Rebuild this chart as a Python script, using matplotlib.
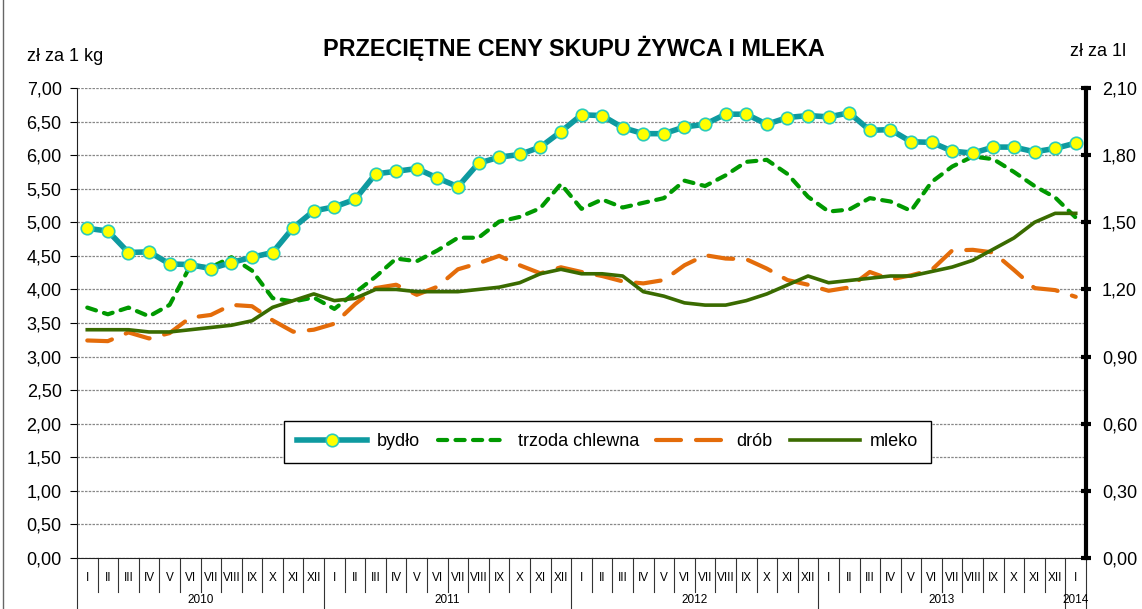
import matplotlib.pyplot as plt
import numpy as np
from matplotlib.ticker import FuncFormatter, MultipleLocator
from matplotlib.lines import Line2D

plt.rcParams['font.family'] = ['Liberation Sans', 'DejaVu Sans']

# dane: I 2010 - I 2014
months = ['I', 'II', 'III', 'IV', 'V', 'VI', 'VII', 'VIII', 'IX', 'X', 'XI', 'XII']
years = ['2010', '2011', '2012', '2013', '2014']
month_labels = months * 4 + ['I']

bydlo = [4.91, 4.87, 4.55, 4.56, 4.38, 4.37, 4.31, 4.40, 4.48, 4.55, 4.92, 5.17,
         5.23, 5.34, 5.72, 5.76, 5.80, 5.66, 5.53, 5.88, 5.97, 6.01, 6.12, 6.35,
         6.60, 6.59, 6.41, 6.32, 6.32, 6.42, 6.46, 6.61, 6.61, 6.46, 6.56, 6.59,
         6.57, 6.63, 6.37, 6.38, 6.20, 6.19, 6.06, 6.03, 6.12, 6.12, 6.05, 6.10,
         6.18]
trzoda = [3.73, 3.63, 3.73, 3.60, 3.77, 4.35, 4.33, 4.48, 4.28, 3.87, 3.82, 3.88,
          3.71, 3.95, 4.19, 4.46, 4.42, 4.58, 4.77, 4.77, 5.01, 5.08, 5.21, 5.57,
          5.20, 5.34, 5.22, 5.29, 5.36, 5.62, 5.54, 5.70, 5.90, 5.93, 5.72, 5.38,
          5.16, 5.19, 5.36, 5.31, 5.17, 5.60, 5.83, 5.98, 5.94, 5.75, 5.54, 5.37,
          5.07]
drob = [3.24, 3.23, 3.36, 3.27, 3.35, 3.58, 3.62, 3.77, 3.75, 3.54, 3.37, 3.40,
        3.49, 3.78, 4.02, 4.07, 3.92, 4.04, 4.30, 4.39, 4.50, 4.36, 4.24, 4.33,
        4.26, 4.20, 4.12, 4.09, 4.14, 4.36, 4.51, 4.46, 4.45, 4.31, 4.14, 4.07,
        3.98, 4.03, 4.26, 4.15, 4.21, 4.29, 4.58, 4.59, 4.55, 4.29, 4.02, 3.99,
        3.89]
# mleko w zł za 1 l (prawa oś)
mleko = [1.02, 1.02, 1.02, 1.01, 1.01, 1.02, 1.03, 1.04, 1.06, 1.12, 1.15, 1.18,
         1.15, 1.16, 1.20, 1.20, 1.19, 1.19, 1.19, 1.20, 1.21, 1.23, 1.27, 1.29,
         1.27, 1.27, 1.26, 1.19, 1.17, 1.14, 1.13, 1.13, 1.15, 1.18, 1.22, 1.26,
         1.23, 1.24, 1.25, 1.26, 1.26, 1.28, 1.30, 1.33, 1.38, 1.43, 1.50, 1.54,
         1.54]

n = len(month_labels)
x = np.arange(n) + 0.5

fig = plt.figure(figsize=(11.42, 6.09), dpi=100)
ax = fig.add_axes([0.0674, 0.0837, 0.8836, 0.7718])
ax2 = ax.twinx()

# linie
l_trz, = ax.plot(x, trzoda, color='#009900', lw=3, linestyle=(0, (2.2, 2.0)),
                 dash_capstyle='round', label='trzoda chlewna', zorder=3)
l_dr, = ax.plot(x, drob, color='#E46C0A', lw=3, linestyle=(0, (6, 3.6)),
                dash_capstyle='round', label='drób', zorder=3)
l_by, = ax.plot(x, bydlo, color='#0E9AA0', lw=4, marker='o', markersize=9,
                markerfacecolor='#FFFF00', markeredgecolor='#2CCCB8',
                markeredgewidth=1.2, label='bydło', zorder=4)
l_ml, = ax2.plot(x, mleko, color='#3A6B00', lw=2.6, label='mleko', zorder=3)

# osie
ax.set_xlim(0, n)
ax.set_ylim(0, 7)
ax2.set_ylim(0, 2.1)
ax.yaxis.set_major_locator(MultipleLocator(0.5))
ax2.yaxis.set_major_locator(MultipleLocator(0.3))
fmt = FuncFormatter(lambda v, p: f'{v:.2f}'.replace('.', ','))
ax.yaxis.set_major_formatter(fmt)
ax2.yaxis.set_major_formatter(fmt)
ax.grid(axis='y', color='#888888', linestyle=(0, (2, 1)), lw=0.9)
ax.set_xticks([])

for a in (ax, ax2):
    a.spines['top'].set_visible(False)
ax.spines['right'].set_visible(False)
ax2.spines['left'].set_visible(False)
ax2.spines['bottom'].set_visible(False)
ax.spines['left'].set_color('#222222')
ax.spines['bottom'].set_color('#222222')
ax2.spines['right'].set_linewidth(3)
ax.tick_params(axis='y', labelsize=13, length=5, direction='out', pad=6)
ax2.tick_params(axis='y', labelsize=13, length=7, width=3, direction='inout', pad=8)

# etykiety osi X: miesiące i lata
tr = ax.get_xaxis_transform()
for i, m in enumerate(month_labels):
    ax.text(x[i], -0.043, m, transform=tr, ha='center', va='center', fontsize=8.5)
for k in range(n + 1):
    is_year = (k % 12 == 0) or k == n
    y_end = -0.13 if is_year else -0.072
    ax.plot([k, k], [0, y_end], transform=tr, color='#333333', lw=0.8, clip_on=False)
for j, yr in enumerate(years):
    start = j * 12
    end = min(start + 12, n)
    ax.text((start + end) / 2, -0.089, yr, transform=tr, ha='center', va='center',
            fontsize=8.5)

# legenda
leg = ax2.legend(handles=[l_by, l_trz, l_dr, l_ml], ncol=4, loc='center',
                 bbox_to_anchor=(0.526, 0.247), fontsize=13, frameon=True,
                 fancybox=False, edgecolor='black', framealpha=1,
                 handlelength=3.9, handletextpad=0.55, columnspacing=0.95,
                 borderpad=0.7, borderaxespad=0, numpoints=1)
leg.get_frame().set_linewidth(1)

# teksty
fig.text(0.5026, 0.920, 'PRZECIĘTNE CENY SKUPU ŻYWCA I MLEKA', ha='center',
         va='center', fontsize=16.8, fontweight='bold')
fig.text(0.0236, 0.908, 'zł za 1 kg', ha='left', va='center', fontsize=13)
fig.text(0.937, 0.916, 'zł za 1l', ha='left', va='center', fontsize=13)
fig.add_artist(Line2D([0.0025, 0.0025], [0, 1], color='#666666', lw=1))

fig.savefig('out.png', dpi=100)
